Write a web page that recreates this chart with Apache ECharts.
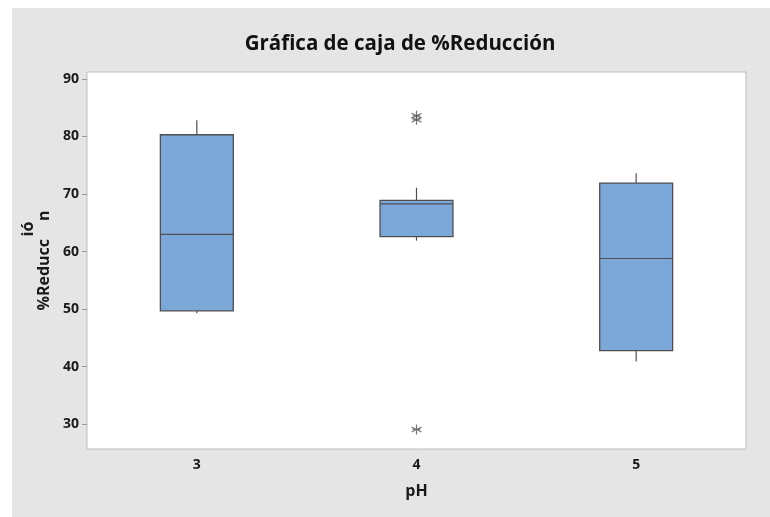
<!DOCTYPE html>
<html>
<head>
<meta charset="utf-8">
<script src="https://cdn.jsdelivr.net/npm/echarts@6/dist/echarts.min.js"></script>
<style>
  html, body { margin: 0; padding: 0; background: #ffffff; }
  #chart { position: absolute; left: 12px; top: 8px; width: 758px; height: 509px; }
</style>
</head>
<body>
<div id="chart"></div>
<script>
// pH levels and the five-number summary of %Reducción at each level
const categories = ['3', '4', '5'];
const whiskerLow = [49.3, 61.9, 40.9];
const q1 = [49.7, 62.6, 42.8];
const median = [63.0, 68.3, 58.8];
const q3 = [80.3, 68.9, 71.9];
const whiskerHigh = [82.8, 71.1, 73.6];

// points beyond the whiskers
const outlierCats = ['4', '4', '4'];
const outlierVals = [83.6, 82.9, 29.1];

const yTicks = [30, 40, 50, 60, 70, 80, 90];

const boxData = categories.map((c, i) => [i, whiskerLow[i], q1[i], median[i], q3[i], whiskerHigh[i]]);
const outlierData = outlierCats.map((c, i) => [c, outlierVals[i]]);

const labelFont = { fontFamily: 'Open Sans', fontWeight: 'bold', fontSize: 14, color: '#1a1a1a' };
const nameFont = { fontFamily: 'Open Sans', fontWeight: 'bold', fontSize: 16, color: '#1a1a1a', lineHeight: 16 };
const strokeColor = '#4f4f4f';

const chart = echarts.init(document.getElementById('chart'));
chart.setOption({
  backgroundColor: '#e5e5e5',
  animation: false,
  title: {
    text: 'Gráfica de caja de %Reducción',
    left: 383,
    textAlign: 'center',
    top: 21,
    textStyle: { fontFamily: 'Open Sans', fontWeight: 'bold', fontSize: 20.5, color: '#111' }
  },
  grid: {
    left: 75, right: 24, top: 64, bottom: 68,
    outerBoundsMode: 'none',
    containLabel: false,
    show: true, backgroundColor: '#ffffff', borderColor: '#bdbdbd', borderWidth: 1
  },
  xAxis: {
    type: 'category',
    data: categories,
    boundaryGap: true,
    name: 'pH',
    nameLocation: 'middle',
    nameGap: 34,
    nameTextStyle: { fontFamily: 'Open Sans', fontWeight: 'bold', fontSize: 16, color: '#1a1a1a' },
    axisLine: { show: false },
    axisTick: { alignWithLabel: true, length: 5, lineStyle: { color: '#9a9a9a' } },
    axisLabel: Object.assign({ margin: 9 }, labelFont)
  },
  yAxis: {
    type: 'value',
    min: 25.7,
    max: 91.2,
    name: '{pad| }{up|ió}{tail| }\n{base|%Reducc}{gap| }{base|n}',
    nameLocation: 'middle',
    nameGap: 35,
    nameTextStyle: {
      rich: {
        pad: { width: 71, fontSize: 16 },
        tail: { width: 8, fontSize: 16 },
        gap: { width: 18, fontSize: 16 },
        up: nameFont,
        base: nameFont
      }
    },
    splitLine: { show: false },
    axisLine: { show: false },
    axisTick: { show: true, length: 5, customValues: yTicks, lineStyle: { color: '#9a9a9a' } },
    axisLabel: Object.assign({ margin: 8, customValues: yTicks }, labelFont)
  },
  series: [
    {
      type: 'custom',
      data: boxData,
      encode: { x: 0, y: [1, 2, 3, 4, 5] },
      renderItem: function (params, api) {
        const idx = api.value(0);
        const band = api.size([1, 0])[0];
        const half = band * 0.166;
        const pLow = api.coord([idx, api.value(1)]);
        const pQ1 = api.coord([idx, api.value(2)]);
        const pMed = api.coord([idx, api.value(3)]);
        const pQ3 = api.coord([idx, api.value(4)]);
        const pHigh = api.coord([idx, api.value(5)]);
        const cx = pMed[0];
        const line = { stroke: strokeColor, lineWidth: 1.2 };
        return {
          type: 'group',
          children: [
            { type: 'line', shape: { x1: cx, y1: pQ3[1], x2: cx, y2: pHigh[1] }, style: line },
            { type: 'line', shape: { x1: cx, y1: pQ1[1], x2: cx, y2: pLow[1] }, style: line },
            {
              type: 'rect',
              shape: { x: cx - half, y: pQ3[1], width: half * 2, height: pQ1[1] - pQ3[1] },
              style: { fill: '#7ba7d9', stroke: strokeColor, lineWidth: 1.3 }
            },
            { type: 'line', shape: { x1: cx - half, y1: pMed[1], x2: cx + half, y2: pMed[1] }, style: line }
          ]
        };
      }
    },
    {
      type: 'scatter',
      data: outlierData,
      symbol: 'path://M5 0L5 10M0.67 2.5L9.33 7.5M0.67 7.5L9.33 2.5M1.5 5L8.5 5',
      symbolSize: 10,
      itemStyle: { color: 'none', borderColor: '#555555', borderWidth: 1.2 }
    }
  ]
});
</script>
</body>
</html>
